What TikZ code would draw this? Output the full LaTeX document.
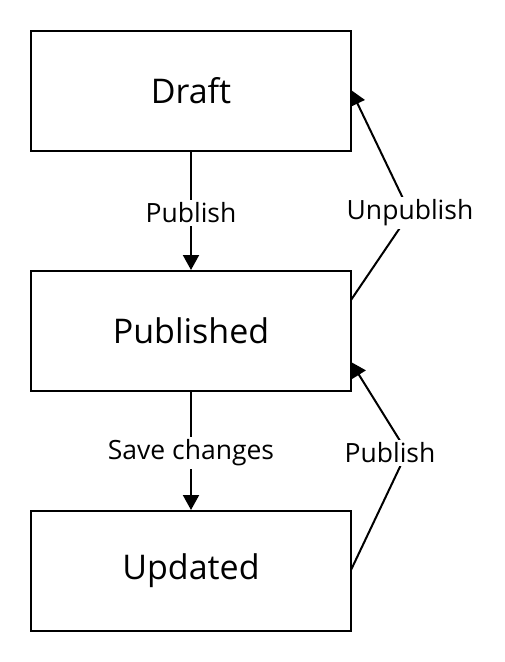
\documentclass[tikz,border=0pt]{standalone}
\usepackage{fontspec}
\setmainfont{Open Sans}
\usetikzlibrary{arrows.meta}
\begin{document}
\begin{tikzpicture}[x=1pt,y=-1pt,
  state/.style={draw=black,line width=2pt,minimum width=320pt,minimum height=120pt,inner sep=0pt,font=\fontsize{34}{40}\selectfont},
  conn/.style={draw=black,line width=2pt,-{Triangle[length=15pt,width=16pt]}},
  lbl/.style={fill=white,inner sep=3pt,font=\fontsize{26.5}{31}\selectfont}]
\useasboundingbox (0,0) rectangle (504,662);
\node[state] (draft) at (191,91) {\raisebox{-2pt}{Draft}};
\node[state] (pub) at (191,331) {\raisebox{-2pt}{Published}};
\node[state] (upd) at (191,571) {\raisebox{-2pt}{Updated}};
\coordinate (s1) at (351,300);
\coordinate (b1) at (410,213);
\coordinate (e1) at (351,90);
\coordinate (s2) at (351,570);
\coordinate (b2) at (407,452);
\coordinate (e2) at (351,362);
\draw[conn] (draft.south) -- (pub.north);
\draw[conn] (pub.south) -- (upd.north);
\node[lbl] (l1) at (191,213) {Publish};
\node[lbl] (l2) at (191,453) {Save changes};
\draw[conn] (s1) -- (b1) -- (e1);
\draw[conn] (s2) -- (b2) -- (e2);
\node[lbl] (l3) at (410,213) {Unpublish};
\node[lbl] (l4) at (390,453) {Publish};
\end{tikzpicture}
\end{document}
